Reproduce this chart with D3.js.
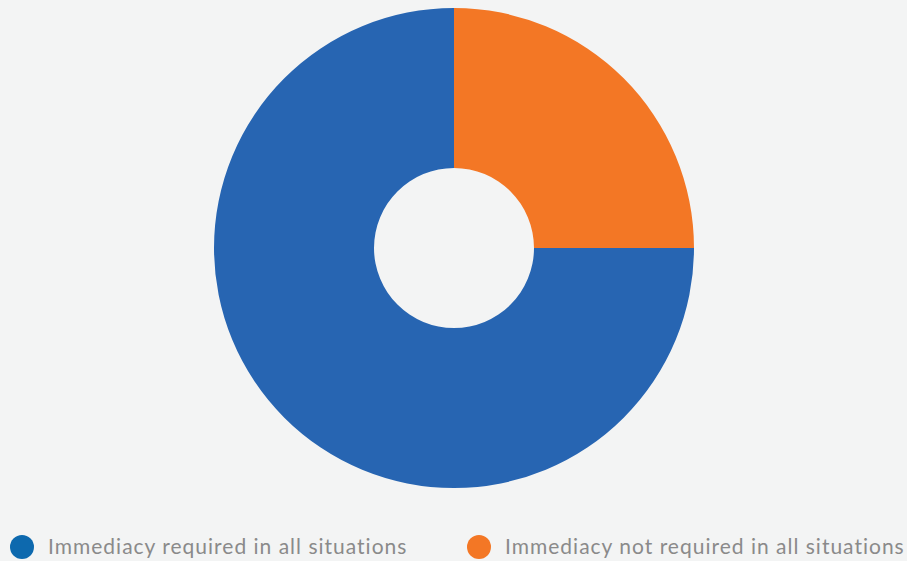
<!DOCTYPE html>
<html>
<head>
<meta charset="utf-8">
<script src="https://cdn.jsdelivr.net/npm/d3@7"></script>
<style>
  html, body { margin: 0; padding: 0; background: #f3f4f4; }
  svg { display: block; }
</style>
</head>
<body>
<svg id="chart" width="907" height="561"></svg>
<script>
// Share of responses per category
const categories = ["Immediacy required in all situations", "Immediacy not required in all situations"];
const values = [75, 25];
const sliceColors = ["#2765b2", "#f37725"];
const legendColors = ["#0d69ae", "#f37725"];

const svg = d3.select("#chart");
const cx = 454, cy = 248, outerR = 240, innerR = 80;

// Start at 3 o'clock so the smaller slice sits in the top-right quadrant
const pie = d3.pie().sort(null).value(d => d.value)
  .startAngle(Math.PI / 2).endAngle(Math.PI / 2 + 2 * Math.PI);
const arcs = pie(categories.map((c, i) => ({ name: c, value: values[i] })));

const arc = d3.arc().innerRadius(innerR).outerRadius(outerR);
const color = d3.scaleOrdinal().domain(categories).range(sliceColors);

svg.append("g")
  .attr("transform", `translate(${cx},${cy})`)
  .selectAll("path")
  .data(arcs)
  .join("path")
  .attr("d", arc)
  .attr("fill", d => color(d.data.name));

// Legend
const legendX = [22, 479];
const legend = svg.append("g");
categories.forEach((c, i) => {
  const g = legend.append("g").attr("transform", `translate(${legendX[i]},547)`);
  g.append("circle").attr("r", 12).attr("fill", legendColors[i]);
  g.append("text")
    .attr("x", 26)
    .attr("y", 6.5)
    .attr("font-family", "Lato, 'Open Sans', sans-serif")
    .attr("font-size", 21)
    .attr("letter-spacing", 1)
    .attr("fill", "#8a8a8a")
    .text(c);
});
</script>
</body>
</html>
